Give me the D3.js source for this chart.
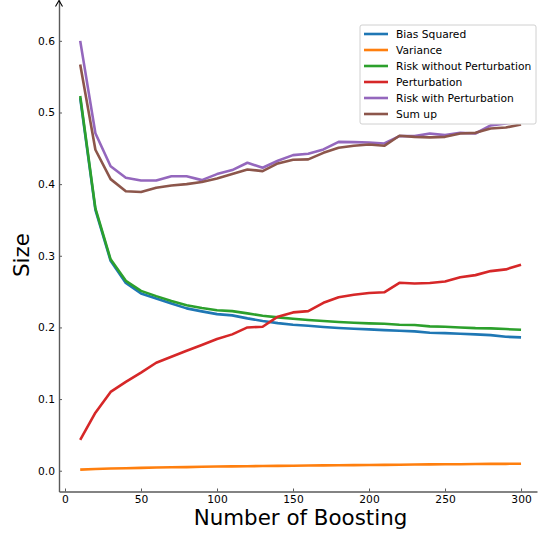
<!DOCTYPE html>
<html>
<head>
<meta charset="utf-8">
<script src="https://cdn.jsdelivr.net/npm/d3@7"></script>
<style>
  body { margin: 0; background: #fff; }
  text { font-family: "DejaVu Sans", sans-serif; }
</style>
</head>
<body>
<div id="chart"></div>
<script>
var boosting = [10, 20, 30, 40, 50, 60, 70, 80, 90, 100, 110, 120, 130, 140, 150,
    160, 170, 180, 190, 200, 210, 220, 230, 240, 250, 260, 270, 280, 290, 300];

var biasSquared = [0.520, 0.364, 0.293, 0.262, 0.2475, 0.2405, 0.2335, 0.2266, 0.2224, 0.2186,
    0.2168, 0.2126, 0.2089, 0.2060, 0.2037, 0.2023, 0.2005, 0.1991, 0.1981, 0.1973,
    0.1963, 0.1953, 0.1945, 0.1926, 0.1921, 0.1912, 0.1903, 0.1893, 0.1870, 0.1861];

var variance = [0.0015, 0.0025, 0.0030, 0.0035, 0.0040, 0.0045, 0.0048, 0.0050, 0.0055, 0.0058,
    0.0060, 0.0063, 0.0065, 0.0068, 0.0070, 0.0072, 0.0074, 0.0076, 0.0078, 0.0080,
    0.0082, 0.0084, 0.0086, 0.0088, 0.0090, 0.0091, 0.0093, 0.0095, 0.0096, 0.0098];

var riskWithout = [0.523, 0.366, 0.295, 0.265, 0.251, 0.2437, 0.237, 0.231, 0.227, 0.224,
    0.2228, 0.2196, 0.2163, 0.214, 0.212, 0.2103, 0.2089, 0.2075, 0.2065, 0.2056,
    0.2051, 0.2037, 0.2033, 0.2015, 0.201, 0.200, 0.199, 0.1987, 0.1977, 0.1967];

var perturbation = [0.043, 0.081, 0.110, 0.124, 0.137, 0.1507, 0.159, 0.1675, 0.1754, 0.1838,
    0.1903, 0.200, 0.201, 0.215, 0.221, 0.2228, 0.2344, 0.242, 0.2456, 0.248,
    0.249, 0.2623, 0.2614, 0.262, 0.264, 0.270, 0.273, 0.2786, 0.281, 0.2875];

var riskWith = [0.600, 0.471, 0.425, 0.409, 0.405, 0.405, 0.411, 0.411, 0.4056, 0.414,
    0.4196, 0.4298, 0.4228, 0.4326, 0.4405, 0.4423, 0.4484, 0.459, 0.4586, 0.4582,
    0.4568, 0.467, 0.467, 0.4707, 0.4684, 0.4716, 0.4707, 0.482, 0.4847, 0.488];

var sumUp = [0.567, 0.448, 0.407, 0.390, 0.389, 0.395, 0.398, 0.400, 0.403, 0.408,
    0.414, 0.4205, 0.4182, 0.4289, 0.434, 0.4345, 0.4437, 0.4507, 0.4535, 0.4554,
    0.4535, 0.4675, 0.466, 0.4652, 0.466, 0.4707, 0.4716, 0.4777, 0.479, 0.4833];

var seriesNames = ['Bias Squared', 'Variance', 'Risk without Perturbation',
    'Perturbation', 'Risk with Perturbation', 'Sum up'];
var seriesValues = [biasSquared, variance, riskWithout, perturbation, riskWith, sumUp];
var colors = ['#1f77b4', '#ff7f0e', '#2ca02c', '#d62728', '#9467bd', '#8c564b'];

var xTicks = [0, 50, 100, 150, 200, 250, 300];
var yTicks = [0.0, 0.1, 0.2, 0.3, 0.4, 0.5, 0.6];

var width = 538, height = 535;

var svg = d3.select('#chart')
    .append('svg')
    .attr('width', width)
    .attr('height', height);

var x = d3.scaleLinear().domain([-3.95, 310.5]).range([59, 537]);
var y = d3.scaleLinear().domain([-0.029, 0.657]).range([491.5, 0]);

var axisColor = '#5a5a5a';

// y axis
var yAxis = svg.append('g')
    .attr('transform', 'translate(59,0)')
    .call(d3.axisLeft(y).tickValues(yTicks).tickFormat(d3.format('.1f'))
        .tickSizeInner(-3).tickSizeOuter(0).tickPadding(4));
yAxis.select('.domain').attr('stroke', axisColor).attr('stroke-width', 1.4);
yAxis.selectAll('.tick line').attr('stroke', axisColor);
yAxis.selectAll('.tick text').attr('fill', '#000').style('font-size', '10.7px');

// arrow at top of y axis
svg.append('path')
    .attr('d', 'M55.5,6.5 L59,0.5 L62.5,6.5')
    .attr('fill', 'none')
    .attr('stroke', '#000')
    .attr('stroke-width', 1.1);

// x axis
var xAxis = svg.append('g')
    .attr('transform', 'translate(0,491.5)')
    .call(d3.axisBottom(x).tickValues(xTicks).tickFormat(d3.format('d'))
        .tickSizeInner(-3).tickSizeOuter(0).tickPadding(4));
xAxis.select('.domain').attr('stroke', axisColor).attr('stroke-width', 1.4);
xAxis.selectAll('.tick line').attr('stroke', axisColor);
xAxis.selectAll('.tick text').attr('fill', '#000').style('font-size', '10.7px');

// axis titles
svg.append('text')
    .attr('x', 300.5)
    .attr('y', 525)
    .attr('text-anchor', 'middle')
    .style('font-size', '21.4px')
    .text('Number of Boosting');

svg.append('text')
    .attr('transform', 'translate(29,255)rotate(-90)')
    .attr('text-anchor', 'middle')
    .style('font-size', '21.4px')
    .text('Size');

// lines
var line = d3.line()
    .x((d, i) => x(boosting[i]))
    .y(d => y(d));

svg.append('g').selectAll('path')
    .data(seriesValues)
    .enter()
    .append('path')
    .attr('d', d => line(d))
    .attr('fill', 'none')
    .attr('stroke', (d, i) => colors[i])
    .attr('stroke-width', 2.6)
    .attr('stroke-linejoin', 'round');

// legend
var legend = svg.append('g').attr('transform', 'translate(360,25)');
legend.append('rect')
    .attr('width', 176)
    .attr('height', 99)
    .attr('rx', 2)
    .attr('fill', '#fff')
    .attr('stroke', '#d0d0d0')
    .attr('stroke-width', 1);

var items = legend.selectAll('g.item')
    .data(seriesNames)
    .enter()
    .append('g')
    .attr('class', 'item')
    .attr('transform', (d, i) => `translate(0,${9 + i * 16})`);

items.append('line')
    .attr('x1', 4).attr('x2', 28)
    .attr('stroke', (d, i) => colors[i])
    .attr('stroke-width', 2.6);

items.append('text')
    .attr('x', 36)
    .attr('dy', '0.36em')
    .style('font-size', '10.7px')
    .text(d => d);
</script>
</body>
</html>
